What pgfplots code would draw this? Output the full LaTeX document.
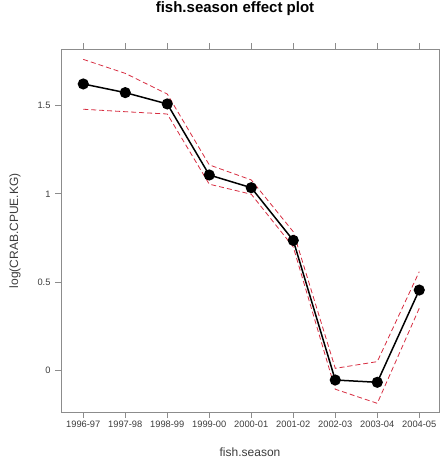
\documentclass[border=0pt]{standalone}
\usepackage{pgfplots}
\pgfplotsset{compat=1.18}
\usepackage{fontspec}
\setmainfont{Liberation Sans}
\definecolor{bandred}{RGB}{215,45,65}
\definecolor{axgray}{RGB}{140,140,140}
\definecolor{txtgray}{RGB}{60,60,60}
\begin{document}
\begin{tikzpicture}
\path[use as bounding box] (0,0) rectangle (441pt,462pt);
\begin{axis}[
  at={(61pt,50pt)}, anchor=south west,
  scale only axis, width=378pt, height=362.5pt,
  xmin=-0.53, xmax=8.47, ymin=-0.234, ymax=1.817,
  xtick={0,1,2,3,4,5,6,7,8},
  xticklabels={1996-97,1997-98,1998-99,1999-00,2000-01,2001-02,2002-03,2003-04,2004-05},
  ytick={0,0.5,1,1.5},
  yticklabels={0,0.5,1,1.5},
  tick pos=both,
  ytick pos=left,
  xticklabel pos=bottom,
  tick align=outside, major tick length=6pt,
  axis line style={axgray, line width=0.8pt},
  tick style={axgray, line width=0.8pt},
  /pgf/number format/assume math mode=true,
  tick label style={font=\fontsize{9.3}{10}\selectfont, text=txtgray},
  xticklabel style={yshift=1pt},
  yticklabel style={xshift=-1pt},
  title={\textbf{fish.season effect plot}},
  title style={font=\fontsize{15}{17}\selectfont, at={(axis description cs:0.5,1)}, anchor=center, yshift=34.5pt, xshift=-15pt},
  xlabel={fish.season},
  xlabel style={font=\fontsize{12}{14}\selectfont, text=txtgray, at={(axis description cs:0.5,0)}, anchor=center, yshift=-40pt},
  ylabel={log(CRAB.CPUE.KG)},
  ylabel style={font=\fontsize{12}{14}\selectfont, text=txtgray, at={(axis description cs:0,0.5)}, anchor=center, yshift=46pt},
  clip=false,
]
\addplot[bandred, line width=0.8pt, dash pattern=on 5pt off 3pt] coordinates {
(0,1.761) (1,1.682) (2,1.565) (3,1.164) (4,1.079) (5,0.786) (6,0.013) (7,0.051) (8,0.560)
};
\addplot[bandred, line width=0.8pt, dash pattern=on 5pt off 3pt] coordinates {
(0,1.479) (1,1.465) (2,1.452) (3,1.055) (4,0.998) (5,0.700) (6,-0.105) (7,-0.185) (8,0.353)
};
\addplot[black, line width=1.5pt, mark=*, mark size=4.8pt, mark options={fill=black}] coordinates {
(0,1.622) (1,1.573) (2,1.509) (3,1.107) (4,1.035) (5,0.737) (6,-0.053) (7,-0.066) (8,0.456)
};
\end{axis}
\end{tikzpicture}
\end{document}
